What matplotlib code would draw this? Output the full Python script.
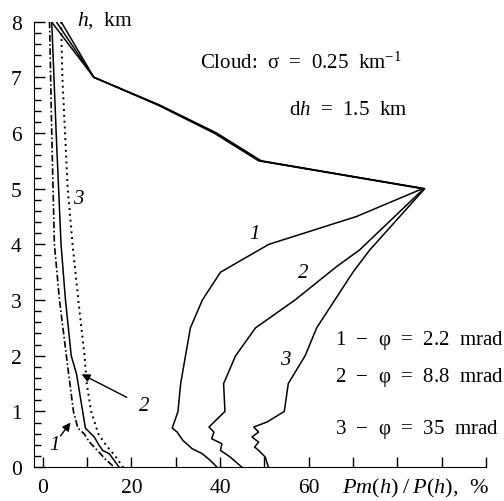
import numpy as np
import matplotlib
matplotlib.use("Agg")
import matplotlib.pyplot as plt
from matplotlib.ticker import MultipleLocator, FixedLocator

plt.rcParams['font.family'] = ['Liberation Serif', 'DejaVu Serif']
plt.rcParams['mathtext.fontset'] = 'custom'
plt.rcParams['mathtext.rm'] = 'Liberation Serif'
plt.rcParams['mathtext.it'] = 'Liberation Serif:italic'

# cloud case, curves 1-3 (x = Pm/P in %, h in km)
h_c1 = [8.0, 7.0, 6.5, 6.0, 5.5, 5.0, 4.5, 4.0, 3.5, 3.0, 2.5, 1.5, 1.0, 0.7, 0.63, 0.48, 0.33, 0.24, 0.12, 0.0]
x_c1 = [1.9, 11.5, 26.0, 38.6, 48.7, 85.7, 70.8, 51.0, 40.1, 36.0, 33.3, 31.1, 30.5, 29.2, 30.3, 31.6, 33.7, 36.0, 37.8, 39.3]

h_c2 = [8.0, 7.0, 6.5, 6.0, 5.5, 5.0, 3.9, 3.6, 3.0, 2.5, 2.0, 1.5, 1.0, 0.72, 0.63, 0.51, 0.42, 0.30, 0.18, 0.0]
x_c2 = [3.0, 11.5, 26.2, 38.9, 49.0, 86.0, 71.5, 66.3, 56.9, 48.0, 43.5, 40.8, 41.1, 37.5, 38.6, 38.1, 40.4, 40.1, 42.3, 44.9]

h_c3 = [8.0, 7.0, 6.5, 6.0, 5.5, 5.0, 3.9, 3.5, 2.5, 2.0, 1.5, 1.0, 0.81, 0.72, 0.63, 0.54, 0.45, 0.36, 0.30, 0.18, 0.0]
x_c3 = [4.1, 11.5, 26.4, 39.2, 49.3, 86.2, 73.8, 70.0, 61.8, 59.2, 55.4, 54.5, 50.6, 47.6, 48.7, 47.2, 48.7, 47.8, 48.7, 50.2, 50.9]

# clear sky case, curves 1-3
h_n1 = [8.0, 6.0, 4.0, 3.0, 2.0, 1.0, 0.7, 0.6, 0.45, 0.3, 0.15, 0.0]
x_n1 = [1.5, 2.0, 2.6, 3.75, 5.3, 6.9, 7.9, 9.3, 10.5, 12.3, 14.0, 16.1]

h_n2 = [8.0, 6.0, 4.0, 3.0, 2.0, 1.67, 0.7, 0.54, 0.39, 0.30, 0.24, 0.12, 0.0]
x_n2 = [2.0, 3.0, 4.1, 5.1, 6.4, 7.6, 9.6, 11.6, 12.7, 13.5, 15.0, 16.1, 17.2]

h_n3 = [8.0, 7.0, 6.0, 5.0, 4.0, 3.0, 2.0, 1.5, 1.0, 0.6, 0.4, 0.2, 0.0]
x_n3 = [4.1, 4.4, 5.0, 5.6, 6.7, 8.0, 9.4, 9.9, 10.9, 12.5, 14.2, 16.3, 18.1]

legend_lines = [r'$\mathit{1}$  −  φ  =  2.2  mrad',
                r'$\mathit{2}$  −  φ  =  8.8  mrad',
                r'$\mathit{3}$  −  φ  =  35  mrad']

fig = plt.figure(figsize=(5.04, 5.02), dpi=100)
ax = fig.add_axes([0.0675, 0.0675, 0.8965, 0.8875])

for xs, hs in [(x_c1, h_c1), (x_c2, h_c2), (x_c3, h_c3)]:
    ax.plot(xs, hs, color='black', lw=1.1)

ax.plot(x_n1, h_n1, color='black', lw=1.2, dashes=(4, 1.5, 1, 1.5))
ax.plot(x_n2, h_n2, color='black', lw=1.1)
ax.plot(x_n3, h_n3, color='black', lw=1.4, dashes=(1, 2))

ax.set_xlim(-2, 100)
ax.set_ylim(0, 8)
ax.spines['top'].set_visible(False)
ax.spines['right'].set_visible(False)

ax.xaxis.set_major_locator(FixedLocator([0, 20, 40, 60]))
ax.xaxis.set_minor_locator(FixedLocator([10, 30, 50, 70, 80, 90, 100]))
ax.yaxis.set_major_locator(MultipleLocator(1))
ax.yaxis.set_minor_locator(MultipleLocator(0.2))
ax.tick_params(axis='both', which='both', direction='in', labelsize=15.5, width=1)
ax.tick_params(axis='y', which='major', length=8, pad=9)
ax.tick_params(axis='y', which='minor', length=5)
ax.tick_params(axis='x', which='both', length=7, pad=8)

ax.text(7.8, 8.04, r'$h$,  km', fontsize=15.5, va='center', ha='left')
ax.text(67.5, -0.37, r'$Pm(h)\;/\;P(h)$,  %', fontsize=16, va='center', ha='left', clip_on=False)

ax.text(35.5, 7.27, r'Cloud:  σ  =  0.25  km$^{\mathregular{-1}}$', fontsize=15, va='center')
ax.text(55.5, 6.43, r'd$h$  =  1.5  km', fontsize=15, va='center')

for i, s in enumerate(legend_lines):
    ax.text(66.0, [2.30, 1.62, 0.70][i], s, fontsize=15, va='center')

# curve labels
ax.text(47.8, 4.19, '1', style='italic', fontsize=15, ha='center', va='center')
ax.text(58.8, 3.50, '2', style='italic', fontsize=15, ha='center', va='center')
ax.text(54.7, 1.94, '3', style='italic', fontsize=15, ha='center', va='center')
ax.text(7.9, 4.82, '3', style='italic', fontsize=15, ha='center', va='center')
ax.text(22.9, 1.10, '2', style='italic', fontsize=15, ha='center', va='center')
ax.text(2.6, 0.40, '1', style='italic', fontsize=15, ha='center', va='center')

ax.annotate('', xy=(8.2, 1.69), xytext=(19.5, 1.23),
            arrowprops=dict(arrowstyle='-|>', color='black', lw=1.0, mutation_scale=12))
ax.annotate('', xy=(6.6, 0.84), xytext=(3.6, 0.52),
            arrowprops=dict(arrowstyle='-|>', color='black', lw=1.0, mutation_scale=12))

fig.savefig('out.png', dpi=100)
